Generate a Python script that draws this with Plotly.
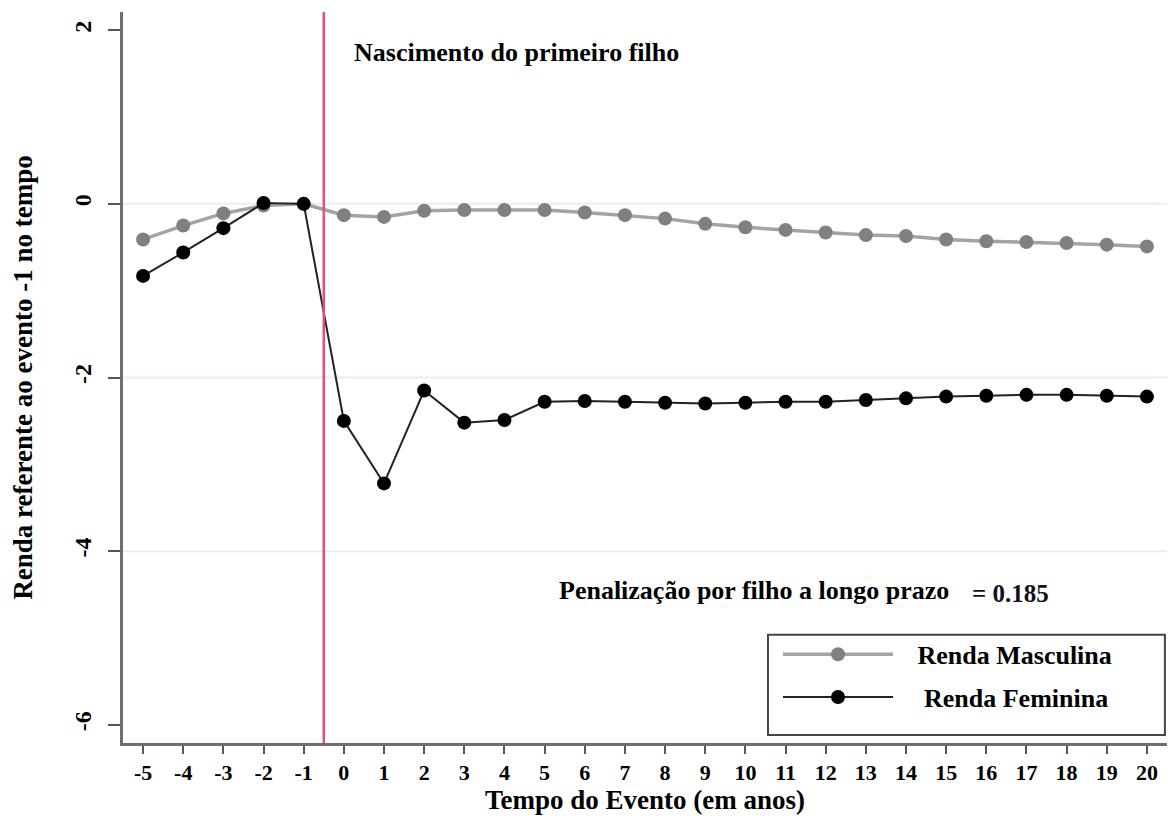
import plotly.graph_objects as go

event_time = list(range(-5, 21))
x_tick_labels = [str(t) for t in event_time]
renda_masculina = [-0.41, -0.25, -0.11, -0.02, 0.0, -0.13, -0.15, -0.08, -0.07, -0.07, -0.07,
                   -0.10, -0.13, -0.17, -0.23, -0.27, -0.30, -0.33, -0.36, -0.37, -0.41,
                   -0.43, -0.44, -0.45, -0.47, -0.49]
renda_feminina = [-0.83, -0.56, -0.28, 0.01, 0.0, -2.50, -3.22, -2.15, -2.52, -2.49, -2.28,
                  -2.27, -2.28, -2.29, -2.30, -2.29, -2.28, -2.28, -2.26, -2.24, -2.22,
                  -2.21, -2.20, -2.20, -2.21, -2.22]
y_ticks = [2, 0, -2, -4, -6]
y_tick_labels = ["2", "0", "-2", "-4", "-6"]
grid_values = [0, -2, -4]
event_line_x = -0.5

FONT = "Liberation Serif"
NB = "\u00a0"

fig = go.Figure()
fig.add_trace(go.Scatter(
    x=event_time, y=renda_masculina, mode="lines+markers",
    name=NB * 3 + "Renda Masculina", legendgroup="m",
    line=dict(color="#a3a3a3", width=3.5),
    marker=dict(color="#808080", size=14),
))
fig.add_trace(go.Scatter(
    x=event_time, y=renda_feminina, mode="lines+markers",
    name=NB * 4 + "Renda Feminina", legendgroup="f",
    line=dict(color="#222222", width=2),
    marker=dict(color="#000000", size=14),
))

for g in grid_values:
    fig.add_shape(type="line", xref="paper", yref="y", x0=0, x1=1, y0=g, y1=g,
                  line=dict(color="#e6f0f0", width=2), layer="below")

fig.add_shape(type="line", xref="x", yref="paper", x0=event_line_x, x1=event_line_x,
              y0=0, y1=1, line=dict(color="#e0507a", width=2.5), layer="above")

# legend frame
fig.add_shape(type="rect", xref="paper", yref="paper", x0=0.6178, x1=0.998, y0=0.011, y1=0.148,
              line=dict(color="#444444", width=2), fillcolor="white", layer="above")

fig.add_annotation(x=0.2, y=1.74, xref="x", yref="y", text="Nascimento do primeiro filho",
                   showarrow=False, xanchor="left", yanchor="middle",
                   font=dict(family=FONT, size=26, color="black", weight="bold"))
fig.add_annotation(x=5.3, y=-4.45, xref="x", yref="y", text="Penalização por filho a longo prazo",
                   showarrow=False, xanchor="left", yanchor="middle",
                   font=dict(family=FONT, size=26, color="black", weight="bold"))
fig.add_annotation(x=15.6, y=-4.49, xref="x", yref="y", text="= 0.185",
                   showarrow=False, xanchor="left", yanchor="middle",
                   font=dict(family=FONT, size=25, color="#111122", weight="bold"))

fig.update_layout(
    width=1167, height=821,
    margin=dict(l=115, r=8, t=4, b=86),
    plot_bgcolor="white", paper_bgcolor="white",
    font=dict(family=FONT, color="black"),
    legend=dict(
        x=0.6274, y=0.1535, xanchor="left", yanchor="top",
        borderwidth=0, bgcolor="rgba(0,0,0,0)",
        itemwidth=110, traceorder="grouped", tracegroupgap=6,
        font=dict(family=FONT, size=26, color="black", weight="bold"),
    ),
)
fig.update_xaxes(
    range=[-5.5, 20.5], tickmode="array", tickvals=event_time, ticktext=x_tick_labels,
    showgrid=False, zeroline=False, automargin=False,
    showline=True, linecolor="#6e6e6e", linewidth=3,
    ticks="outside", ticklen=8, tickwidth=2, tickcolor="#555555",
    ticklabelstandoff=0,
    tickfont=dict(family=FONT, size=22, color="black", weight="bold"),
    title=dict(text="Tempo do Evento (em anos)", standoff=0,
               font=dict(family=FONT, size=27, color="black", weight="bold")),
)
fig.update_yaxes(
    range=[-6.21, 2.21], tickmode="array", tickvals=y_ticks, ticktext=y_tick_labels,
    showgrid=False, zeroline=False, automargin=False,
    showline=True, linecolor="#6e6e6e", linewidth=3,
    ticks="outside", ticklen=12, tickwidth=2, tickcolor="#555555",
    tickangle=-90, ticklabelstandoff=7,
    tickfont=dict(family=FONT, size=24, color="black", weight="bold"),
    title=dict(text="Renda referente ao evento -1 no tempo", standoff=30,
               font=dict(family=FONT, size=27, color="black", weight="bold")),
)

fig.write_html("out.html")
